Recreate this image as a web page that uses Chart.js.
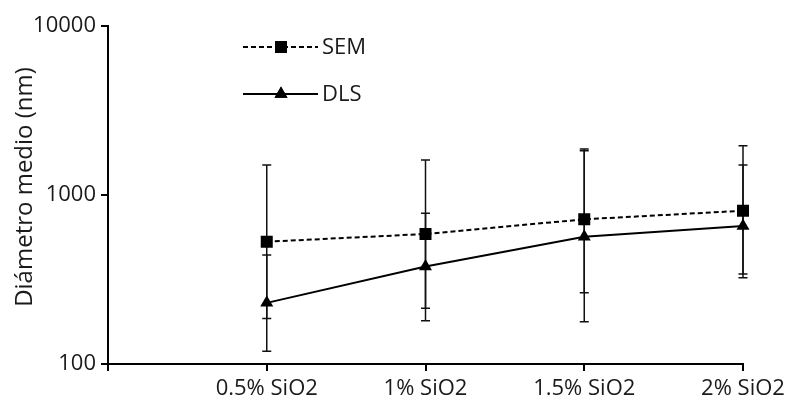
<!DOCTYPE html>
<html>
<head>
<meta charset="utf-8">
<script src="https://cdn.jsdelivr.net/npm/chart.js@4/dist/chart.umd.min.js"></script>
<style>
  html, body { margin: 0; padding: 0; background: #fff; }
  #wrap { width: 790px; height: 403px; position: relative; }
</style>
</head>
<body>
<div id="wrap"><canvas id="c"></canvas></div>
<script>
const categories = ['', '0.5% SiO2', '1% SiO2', '1.5% SiO2', '2% SiO2'];
const semValues = [null, 529, 588, 718, 807];
const semUpper  = [null, 1506, 1611, 1872, 1958];
const semLower  = [null, 186, 214, 264, 324];
const dlsValues = [null, 230, 377, 567, 656];
const dlsUpper  = [null, 441, 779, 1829, 1506];
const dlsLower  = [null, 119, 180, 178, 341];
const yTicks = [100, 1000, 10000];
const yTitle = 'Diámetro medio (nm)';

const FONT = "'Open Sans', sans-serif";
const TXT = '#1a1a1a';

const errorBars = {
  id: 'errorBars',
  beforeDatasetsDraw(chart) {
    const ctx = chart.ctx;
    const x = chart.scales.x, y = chart.scales.y;
    const sets = [[semUpper, semLower], [dlsUpper, dlsLower]];
    ctx.save();
    ctx.strokeStyle = '#111';
    ctx.lineWidth = 1.5;
    sets.forEach(([up, lo]) => {
      up.forEach((u, i) => {
        if (u == null) return;
        const px = x.getPixelForValue(i);
        const py1 = y.getPixelForValue(u);
        const py2 = y.getPixelForValue(lo[i]);
        ctx.beginPath();
        ctx.moveTo(px, py1); ctx.lineTo(px, py2);
        ctx.moveTo(px - 4.5, py1); ctx.lineTo(px + 4.5, py1);
        ctx.moveTo(px - 4.5, py2); ctx.lineTo(px + 4.5, py2);
        ctx.stroke();
      });
    });
    ctx.restore();
  }
};

const customLegendAndTitle = {
  id: 'customLegendAndTitle',
  afterDraw(chart) {
    const ctx = chart.ctx;
    const items = chart.data.datasets;
    const x0 = 243, x1 = 318, xm = 281;
    const ys = [47, 94];
    ctx.save();
    items.forEach((ds, i) => {
      const yy = ys[i];
      ctx.strokeStyle = '#000';
      ctx.lineWidth = 2;
      ctx.setLineDash(ds.borderDash || []);
      ctx.beginPath(); ctx.moveTo(x0, yy); ctx.lineTo(x1, yy); ctx.stroke();
      ctx.setLineDash([]);
      ctx.fillStyle = '#000';
      Chart.helpers.drawPoint(ctx, { pointStyle: ds.pointStyle, radius: ds.pointRadius, borderWidth: 0 }, xm, yy);
      ctx.fill();
      ctx.fillStyle = TXT;
      ctx.font = '22px ' + FONT;
      ctx.textBaseline = 'middle';
      ctx.textAlign = 'left';
      ctx.fillText(ds.label, x1 + 4, yy + 1);
    });
    // y axis title
    ctx.translate(25, 187);
    ctx.rotate(-Math.PI / 2);
    ctx.font = '24px ' + FONT;
    ctx.textAlign = 'center';
    ctx.textBaseline = 'middle';
    ctx.fillStyle = TXT;
    ctx.fillText(yTitle, 0, 0);
    ctx.restore();
  }
};

new Chart(document.getElementById('c'), {
  type: 'line',
  data: {
    labels: categories,
    datasets: [
      {
        label: 'SEM',
        data: semValues,
        borderColor: '#000',
        backgroundColor: '#000',
        borderWidth: 2,
        borderDash: [5, 3],
        pointStyle: 'rect',
        pointRadius: 8.5,
        pointBorderWidth: 0,
        pointBackgroundColor: '#000'
      },
      {
        label: 'DLS',
        data: dlsValues,
        borderColor: '#000',
        backgroundColor: '#000',
        borderWidth: 2,
        pointStyle: 'triangle',
        pointRadius: 7.5,
        pointBorderWidth: 0,
        pointBackgroundColor: '#000'
      }
    ]
  },
  options: {
    responsive: true,
    maintainAspectRatio: false,
    animation: false,
    layout: { padding: { top: 26, right: 47, left: 0, bottom: 0 } },
    plugins: { legend: { display: false }, tooltip: { enabled: false } },
    scales: {
      x: {
        type: 'category',
        offset: false,
        afterFit(s) { s.height = 39; },
        grid: { drawOnChartArea: false, drawTicks: true, tickLength: 7, color: '#000', lineWidth: 2 },
        border: { display: true, color: '#000', width: 2 },
        ticks: { color: TXT, font: { family: FONT, size: 22 }, padding: 5, maxRotation: 0, autoSkip: false }
      },
      y: {
        type: 'logarithmic',
        min: 100,
        max: 10000,
        afterFit(s) { s.width = 108; },
        afterBuildTicks(s) { s.ticks = yTicks.map(v => ({ value: v })); },
        grid: { drawOnChartArea: false, drawTicks: true, tickLength: 7, color: '#000', lineWidth: 2 },
        border: { display: true, color: '#000', width: 2 },
        ticks: { color: TXT, font: { family: FONT, size: 22 }, padding: 5, callback: v => String(v) },
        title: { display: false }
      }
    }
  },
  plugins: [errorBars, customLegendAndTitle]
});
</script>
</body>
</html>
